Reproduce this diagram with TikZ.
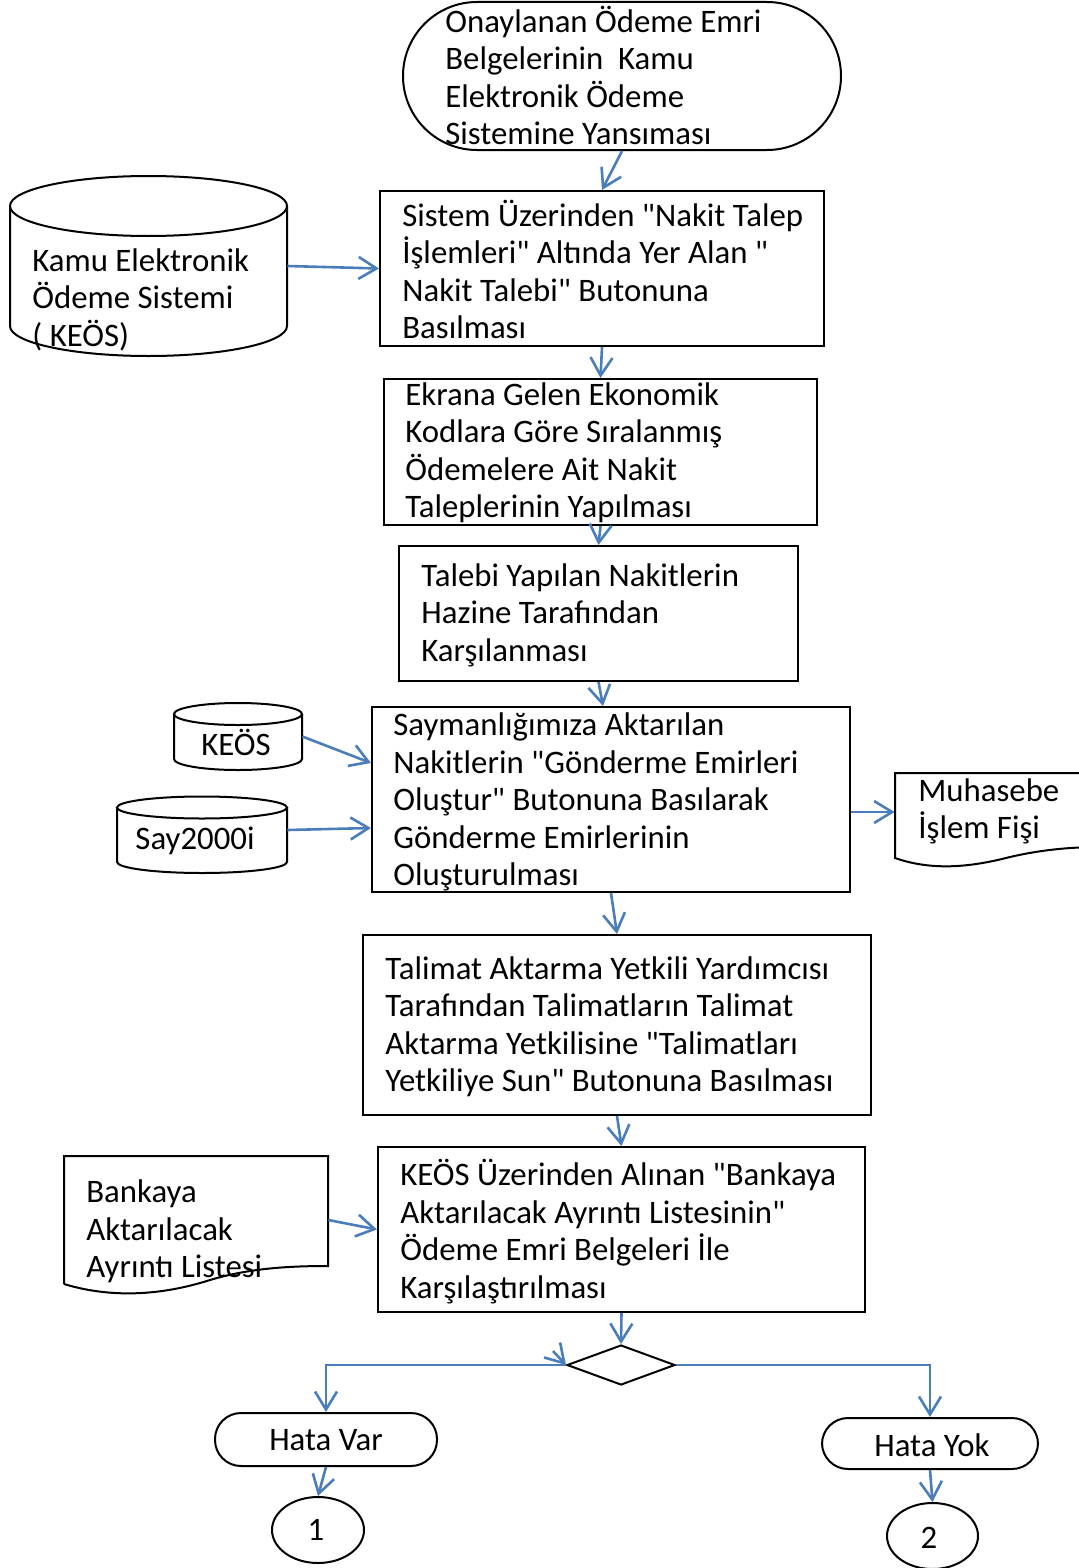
\documentclass[tikz,border=0pt]{standalone}
\usepackage{fontspec}
\setmainfont{Carlito}[Ligatures=TeXOff]
\usetikzlibrary{arrows.meta,shapes.geometric}
\definecolor{arrblue}{HTML}{4A7EBB}
\begin{document}
\begin{tikzpicture}[x=0.5pt,y=-0.5pt,
  box/.style={draw, line width=1pt, inner sep=0pt},
  term/.style={box, rounded corners=#1},
  txt/.style={align=left, inner sep=0pt, font=\fontsize{16.4pt}{18.75pt}\selectfont},
  ghost/.style={inner sep=0pt},
  arr/.style={draw=arrblue, line width=1.3pt, -{Straight Barb[length=9pt,width=11pt]}},
  shp/.style={draw, line width=1pt, fill=white}]
\useasboundingbox (0,0) rectangle (1078,1568);

% ---- cylinders (drawn shapes) ----
\draw[shp] (10,206) -- (10,326) arc[start angle=180,end angle=360,x radius=69.25pt,y radius=15pt] -- (287,206);
\draw[shp] (148.5,206) ellipse[x radius=69.25pt,y radius=15pt];
\node[ghost, minimum width=138.5pt, minimum height=90pt] (kc) at (148.5,266) {};
\node[txt, anchor=west] (kct) at (32,299.5) {Kamu Elektronik\\Ödeme Sistemi\\( KEÖS)};

\draw[shp] (174,714) -- (174,759) arc[start angle=180,end angle=360,x radius=32pt,y radius=5.5pt] -- (302,714);
\draw[shp] (238,714) ellipse[x radius=32pt,y radius=5.5pt];
\node[ghost, minimum width=64pt, minimum height=33.5pt] (kk) at (238,736.5) {};
\node[txt] (kkt) at (236,742) {KEÖS};

\draw[shp] (117,807.5) -- (117,862) arc[start angle=180,end angle=360,x radius=42.5pt,y radius=5.5pt] -- (287,807.5);
\draw[shp] (202,807.5) ellipse[x radius=42.5pt,y radius=5.5pt];
\node[ghost, minimum width=85pt, minimum height=38pt] (ks) at (202,835) {};
\node[txt] (kst) at (195,841) {Say2000i};

% ---- documents ----
\draw[shp] (1100,773) -- (895,773) -- (895,858) .. controls (935,872) and (975,866) .. (1010,857) .. controls (1040,850) and (1070,847) .. (1100,847);
\node[ghost, minimum width=97.5pt, minimum height=39pt] (mfb) at (992.5,812) {};
\node[txt, anchor=west] (mft) at (918,811.5) {Muhasebe\\İşlem Fişi};

\draw[shp] (64,1284) -- (64,1156) -- (328,1156) -- (328,1266) .. controls (290,1266) and (250,1268) .. (210,1280) .. controls (160,1296) and (110,1298) .. (64,1284);
\node[ghost, minimum width=132pt, minimum height=64pt] (bnb) at (196,1220) {};
\node[txt, anchor=west] (bnt) at (86,1231.5) {Bankaya\\Aktarılacak\\Ayrıntı Listesi};

% ---- process boxes ----
\node[term=37pt, minimum width=219pt, minimum height=74pt] (t0) at (622,76) {};
\node[txt, anchor=west] (t0t) at (445,75.5) {Onaylanan Ödeme Emri\\Belgelerinin\ \ Kamu\\Elektronik Ödeme\\Sistemine Yansıması};

\node[box, minimum width=222pt, minimum height=77.5pt] (b1) at (602,268.5) {};
\node[txt, anchor=west] (b1t) at (402,269.5) {Sistem Üzerinden "Nakit Talep\\İşlemleri" Altında Yer Alan "\\Nakit Talebi" Butonuna\\Basılması};

\node[box, minimum width=216.5pt, minimum height=73pt] (b2) at (600.5,452) {};
\node[txt, anchor=west] (b2t) at (405,453) {Ekrana Gelen Ekonomik\\Kodlara Göre Sıralanmış\\Ödemelere Ait Nakit\\Taleplerinin Yapılması};

\node[box, minimum width=199.5pt, minimum height=67.5pt] (b3) at (598.5,613.5) {};
\node[txt, anchor=west] (b3t) at (421,615) {Talebi Yapılan Nakitlerin\\Hazine Tarafından\\Karşılanması};

\node[box, minimum width=239pt, minimum height=92.5pt] (b4) at (611,799.5) {};
\node[txt, anchor=west] (b4t) at (393,802) {Saymanlığımıza Aktarılan\\Nakitlerin "Gönderme Emirleri\\Oluştur" Butonuna Basılarak\\Gönderme Emirlerinin\\Oluşturulması};

\node[box, minimum width=254pt, minimum height=90pt] (b5) at (617,1025) {};
\node[txt, anchor=west] (b5t) at (385,1026.5) {Talimat Aktarma Yetkili Yardımcısı\\Tarafından Talimatların Talimat\\Aktarma Yetkilisine "Talimatları\\Yetkiliye Sun" Butonuna Basılması};

\node[box, minimum width=243.5pt, minimum height=82.5pt] (b6) at (621.5,1229.5) {};
\node[txt, anchor=west] (b6t) at (400,1231.5) {KEÖS Üzerinden Alınan "Bankaya\\Aktarılacak Ayrıntı Listesinin"\\Ödeme Emri Belgeleri İle\\Karşılaştırılması};

\node[diamond, draw, line width=1pt, inner sep=0pt, minimum width=54pt, minimum height=20pt] (d) at (621,1365) {};

\node[term=13pt, minimum width=111pt, minimum height=26.5pt] (hv) at (326,1439.5) {};
\node[txt] (hvt) at (326,1440) {Hata Var};
\node[term=13pt, minimum width=108pt, minimum height=25.5pt] (hy) at (930,1443.5) {};
\node[txt] (hyt) at (932,1445) {Hata Yok};

\node[ellipse, draw, line width=1pt, inner sep=0pt, minimum width=46pt, minimum height=33pt] (c1) at (318,1530) {};
\node[txt] (c1t) at (316,1530) {1};
\node[ellipse, draw, line width=1pt, inner sep=0pt, minimum width=45.5pt, minimum height=33pt] (c2) at (932.5,1536) {};
\node[txt] (c2t) at (929,1538) {2};

\coordinate (dw) at (553,1351);

% ---- connectors ----
\draw[arr] (t0.south) -- (b1.north);
\draw[arr] (kc.east) -- (b1.west);
\draw[arr] (b1.south) -- (b2.north);
\draw[arr] (b2.south) -- (b3.north);
\draw[arr] (b3.south) -- ([xshift=-4pt]b4.north);
\draw[arr] (kk.east) -- ([yshift=18.25pt]b4.west);
\draw[arr] ([yshift=2.5pt]ks.east) -- ([yshift=-14.25pt]b4.west);
\draw[arr] (mfb.west -| b4.east) -- (mfb.west);
\draw[arr] (b4.south) -- (b5.north);
\draw[arr] (b5.south) -- (b6.north);
\draw[arr] (bnb.east) -- (b6.west);
\draw[arr] (b6.south) -- (d.north);
\draw[arr] (d.west) -| (hv.north);
\draw[arr] (dw) -- (d.west);
\draw[arr] (d.east) -| (hy.north);
\draw[arr] (hv.south) -- (c1.north);
\draw[arr] (hy.south) -- (c2.north);
\end{tikzpicture}
\end{document}
